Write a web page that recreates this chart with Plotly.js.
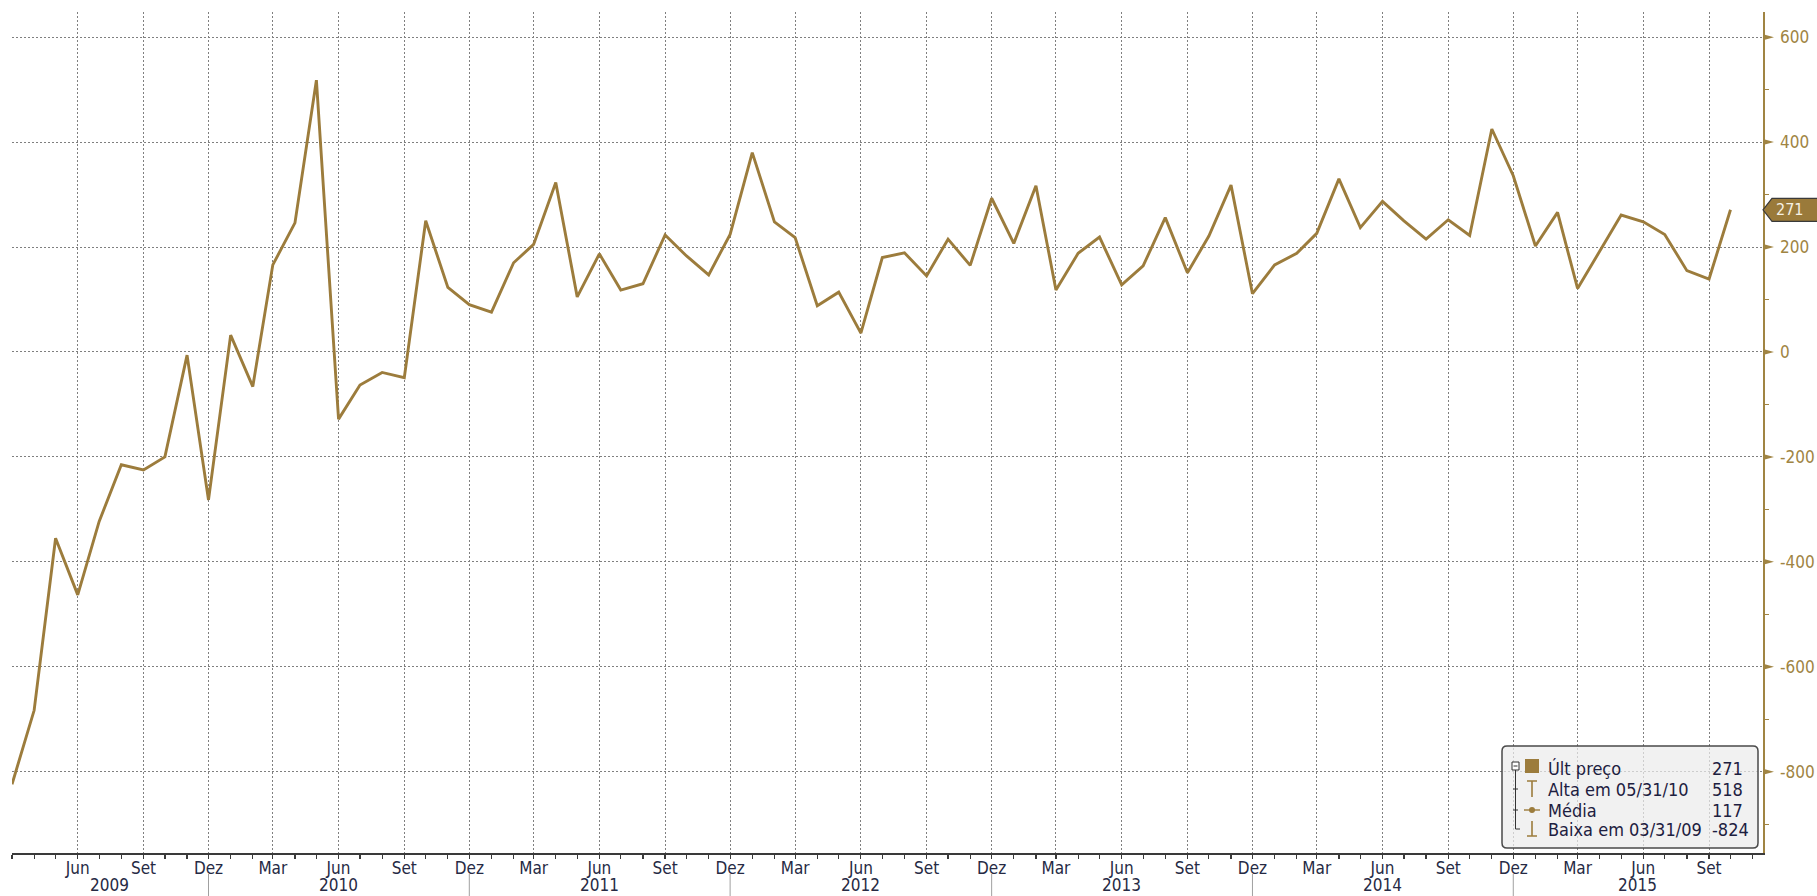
<!DOCTYPE html>
<html>
<head>
<meta charset="utf-8">
<script src="https://cdn.plot.ly/plotly-3.0.1.min.js"></script>
<style>
html,body{margin:0;padding:0;background:#ffffff;}
#chart{width:1817px;height:896px;}
</style>
</head>
<body>
<div id="chart"></div>
<script>
// ---------- DATA ----------
const months = [
  '2009-03','2009-04','2009-05','2009-06','2009-07','2009-08','2009-09','2009-10','2009-11','2009-12',
  '2010-01','2010-02','2010-03','2010-04','2010-05','2010-06','2010-07','2010-08','2010-09','2010-10','2010-11','2010-12',
  '2011-01','2011-02','2011-03','2011-04','2011-05','2011-06','2011-07','2011-08','2011-09','2011-10','2011-11','2011-12',
  '2012-01','2012-02','2012-03','2012-04','2012-05','2012-06','2012-07','2012-08','2012-09','2012-10','2012-11','2012-12',
  '2013-01','2013-02','2013-03','2013-04','2013-05','2013-06','2013-07','2013-08','2013-09','2013-10','2013-11','2013-12',
  '2014-01','2014-02','2014-03','2014-04','2014-05','2014-06','2014-07','2014-08','2014-09','2014-10','2014-11','2014-12',
  '2015-01','2015-02','2015-03','2015-04','2015-05','2015-06','2015-07','2015-08','2015-09','2015-10'
];
const values = [
  -824, -683, -355, -463, -323, -215, -225, -200, -6, -282,
  32, -66, 166, 246, 518, -128, -63, -39, -49, 250, 123, 90,
  76, 170, 205, 323, 105, 187, 118, 130, 223, 183, 147, 224,
  380, 248, 218, 88, 114, 36, 180, 189, 145, 215, 165, 293,
  207, 317, 118, 188, 219, 128, 164, 256, 151, 221, 318, 111,
  166, 188, 226, 330, 237, 287, 250, 215, 252, 222, 425, 336,
  202, 266, 121, 191, 261, 248, 224, 155, 139, 271
];
const monthNames = ['Jan','Fev','Mar','Abr','Mai','Jun','Jul','Ago','Set','Out','Nov','Dez'];
const yTicks = [-800, -600, -400, -200, 0, 200, 400, 600];
const years = ['2009','2010','2011','2012','2013','2014','2015'];
const legendLabels = ['Últ preço', 'Alta em 05/31/10', 'Média', 'Baixa em 03/31/09'];
const legendValues = ['271', '518', '117', '-824'];
const lastLabel = '271';

// ---------- STYLE ----------
const GOLD = '#9c7c3c';
const AXISGOLD = '#a08443';
const DARK = '#262a44';
const FONT = '"DejaVu Sans Condensed", "DejaVu Sans", sans-serif';
const RANGE_X = ['2009-03-01', '2015-11-15 12:00'];

// plot box in pixels
const ML = 12, MT = 12, MR = 54, MB = 43, WIDTH = 1817, HEIGHT = 896;
const PW = WIDTH - ML - MR, PH = HEIGHT - MT - MB;
const px = X => (X - ML) / PW;
const py = Y => (MT + PH - Y) / PH;

// quarter ticks
const qVals = months.filter(m => [3,6,9,12].includes(+m.slice(5,7)));
const qText = qVals.map(m => monthNames[+m.slice(5,7) - 1]);

// year label positions (centre of each year's span, bounded by the range)
const rStart = Date.UTC(2009, 2, 1);
const rEnd = Date.UTC(2015, 10, 15, 12);
const yearAnn = years.map(y => {
  const s = Math.max(rStart, Date.UTC(+y - 1, 11, 1));
  const e = Math.min(rEnd, Date.UTC(+y, 11, 1));
  const mid = new Date((s + e) / 2).toISOString().slice(0, 10);
  return {x: mid, xref: 'x', y: py(885), yref: 'paper', text: y, showarrow: false,
          xanchor: 'center', yanchor: 'middle', font: {family: FONT, size: 17, color: DARK}};
});

// year separators at December gridlines
const sepShapes = years.slice(0, -1).map(y => ({
  type: 'line', xref: 'x', yref: 'paper', x0: y + '-12', x1: y + '-12',
  y0: py(874), y1: py(896), line: {color: '#a0a0a0', width: 1}
}));

// right-axis triangle markers
const triShapes = yTicks.map(v => ({
  type: 'path', xref: 'paper', yref: 'y', xsizemode: 'pixel', ysizemode: 'pixel',
  xanchor: 1, yanchor: v, path: 'M0,-3 L11,0 L0,3 Z',
  fillcolor: AXISGOLD, line: {width: 0}
}));

// last value tag
const lastVal = values[values.length - 1];
const tagShape = {
  type: 'path', xref: 'paper', yref: 'y', xsizemode: 'pixel', ysizemode: 'pixel',
  xanchor: 1, yanchor: lastVal, path: 'M0,0 L9,11.5 L60,11.5 L60,-11.5 L9,-11.5 Z',
  fillcolor: '#9a7a3a', line: {color: '#3a3a3a', width: 1.2}
};
const tagAnn = {
  x: 1, xref: 'paper', y: lastVal, yref: 'y', xanchor: 'left', yanchor: 'middle',
  xshift: 11, text: lastLabel, showarrow: false,
  font: {family: FONT, size: 16, color: '#f6f1e4'}
};

// legend box (pixel offsets from its top-left corner, y up)
const LX = 1502, LY = 746;
function lg(path, fill, line){
  return {type: 'path', xref: 'paper', yref: 'paper', xsizemode: 'pixel', ysizemode: 'pixel',
          xanchor: px(LX), yanchor: py(LY), path: path,
          fillcolor: fill || 'rgba(0,0,0,0)', line: line || {width: 0}};
}
const legendShapes = [
  lg('M5,0 L251,0 Q256,0 256,-5 L256,-97 Q256,-102 251,-102 L5,-102 Q0,-102 0,-97 L0,-5 Q0,0 5,0 Z',
     'rgba(236,236,236,0.72)', {color: '#4a4a4a', width: 1.5}),
  // tree toggle + lines
  lg('M10,-16 L17,-16 L17,-24 L10,-24 Z', '#ffffff', {color: '#333', width: 1}),
  lg('M11.5,-20 L15.5,-20', null, {color: '#333', width: 1}),
  lg('M13.5,-24 L13.5,-83 L18,-83', null, {color: '#333', width: 1}),
  lg('M11,-43 L16,-43', null, {color: '#333', width: 1}),
  lg('M11,-64 L16,-64', null, {color: '#333', width: 1}),
  // icons
  lg('M23,-13 L37,-13 L37,-27 L23,-27 Z', GOLD, {width: 0}),
  lg('M25,-35 L35,-35 M30,-35 L30,-51', null, {color: GOLD, width: 1.6}),
  lg('M22,-64 L38,-64', null, {color: GOLD, width: 1.4}),
  {type: 'circle', xref: 'paper', yref: 'paper', xsizemode: 'pixel', ysizemode: 'pixel',
   xanchor: px(LX), yanchor: py(LY), x0: 27, x1: 33, y0: -61, y1: -67,
   fillcolor: GOLD, line: {width: 0}},
  lg('M30,-75 L30,-90 M25,-90 L35,-90', null, {color: GOLD, width: 1.6})
];
const legendRowsY = [768, 789, 810, 829.5];
const legendAnns = [];
legendLabels.forEach((t, i) => {
  legendAnns.push({x: px(1546), xref: 'paper', y: py(legendRowsY[i]), yref: 'paper', text: t,
    showarrow: false, xanchor: 'left', yanchor: 'middle', font: {family: FONT, size: 18, color: '#1d2040'}});
  legendAnns.push({x: px(1710), xref: 'paper', y: py(legendRowsY[i]), yref: 'paper', text: legendValues[i],
    showarrow: false, xanchor: 'left', yanchor: 'middle', font: {family: FONT, size: 18, color: '#1d2040'}});
});

// ---------- PLOT ----------
const trace = {
  x: months, y: values, type: 'scatter', mode: 'lines',
  line: {color: GOLD, width: 2.9, shape: 'linear'}, hoverinfo: 'skip'
};

const layout = {
  width: WIDTH, height: HEIGHT,
  margin: {l: ML, r: MR, t: MT, b: MB, pad: 0},
  paper_bgcolor: '#ffffff', plot_bgcolor: '#ffffff',
  showlegend: false,
  font: {family: FONT},
  xaxis: {
    type: 'date', range: RANGE_X,
    tickmode: 'array', tickvals: qVals, ticktext: qText,
    ticks: 'outside', ticklen: 4, tickwidth: 1.2, tickcolor: '#3a3a3a',
    ticklabelstandoff: -5,
    showline: true, linecolor: '#3a3a3a', linewidth: 1.6,
    showgrid: true, gridcolor: '#7f7f7f', gridwidth: 1, griddash: '2px,2px',
    zeroline: false,
    tickfont: {family: FONT, size: 17, color: DARK},
    minor: {tickmode: 'linear', tick0: '2009-03-01', dtick: 'M1', ticks: 'outside',
            ticklen: 4, tickwidth: 1.2, tickcolor: '#3a3a3a', showgrid: false},
    fixedrange: true
  },
  yaxis: {
    side: 'right', range: [-955, 648],
    tickmode: 'array', tickvals: yTicks, ticktext: yTicks.map(v => String(v)),
    ticks: 'outside', ticklen: 12, tickcolor: 'rgba(0,0,0,0)',
    showline: true, linecolor: AXISGOLD, linewidth: 1.6,
    showgrid: true, gridcolor: '#7f7f7f', gridwidth: 1, griddash: '2px,2px',
    zeroline: false,
    tickfont: {family: FONT, size: 17, color: AXISGOLD},
    minor: {tickmode: 'linear', tick0: 0, dtick: 100, ticks: 'outside',
            ticklen: 4, tickwidth: 1, tickcolor: AXISGOLD, showgrid: false},
    fixedrange: true
  },
  shapes: [].concat(sepShapes, triShapes, [tagShape], legendShapes),
  annotations: [].concat(yearAnn, [tagAnn], legendAnns)
};

Plotly.newPlot('chart', [trace], layout, {staticPlot: true, displayModeBar: false});
</script>
</body>
</html>
